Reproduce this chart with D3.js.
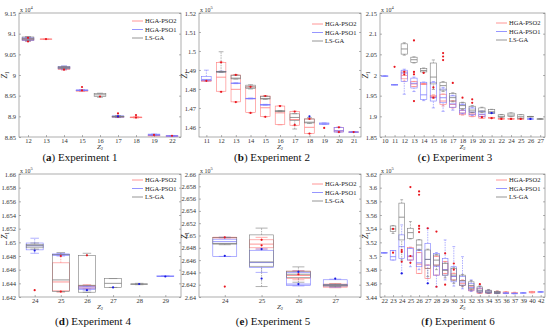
<!DOCTYPE html>
<html>
<head>
<meta charset="utf-8">
<style>
  body { margin: 0; background: #fff; }
  svg { display: block; font-family: "Liberation Serif", "DejaVu Serif", serif; }
  .tick text { font-size: 6.5px; fill: #333; font-family: "Liberation Serif", "DejaVu Serif", serif; }
  .tick line { stroke: #666; stroke-width: 0.5; }
  .caption { font-size: 11px; fill: #111; }
  .legend text { font-size: 6.5px; fill: #222; }
</style>
</head>
<body>
<svg width="550" height="328"></svg>
<script src="https://d3js.org/d3.v7.min.js"></script>
<script>
// each box = [lower whisker, q1, median, q3, upper whisker]; null = no box at that Z2

// ---------- (a) Experiment 1, x 10^4
const catsA = [12, 13, 14, 15, 16, 17, 18, 19, 22];
const ticksA = [8.85, 8.9, 8.95, 9, 9.05, 9.1, 9.15];
const a_pso2 = [
  [9.081, 9.083, 9.086, 9.089, 9.091], [9.086, 9.086, 9.087, 9.087, 9.087],
  [9.012, 9.013, 9.015, 9.018, 9.019], [8.960, 8.961, 8.962, 8.963, 8.964], null,
  [8.898, 8.898, 8.899, 8.900, 8.900], [8.896, 8.897, 8.898, 8.898, 8.899],
  [8.853, 8.853, 8.854, 8.854, 8.855], [8.852, 8.852, 8.852, 8.853, 8.853]
];
const a_pso1 = [
  [9.082, 9.084, 9.087, 9.090, 9.091], null, [9.013, 9.015, 9.018, 9.021, 9.022],
  [8.962, 8.962, 8.963, 8.964, 8.964], null, [8.897, 8.898, 8.900, 8.901, 8.902], null,
  [8.854, 8.854, 8.856, 8.857, 8.857], [8.852, 8.852, 8.853, 8.853, 8.853]
];
const a_lsga = [
  [9.083, 9.085, 9.088, 9.092, 9.093], null, [9.015, 9.016, 9.018, 9.020, 9.021], null,
  [8.946, 8.948, 8.952, 8.955, 8.956], [8.898, 8.899, 8.900, 8.900, 8.901], null, null, null
];
const a_red = [[12, 9.081], [12, 9.090], [13, 9.087], [14, 9.013], [15, 8.971], [15, 8.963], [16, 8.948],
  [17, 8.907], [17, 8.899], [18, 8.903], [18, 8.897], [19, 8.855], [22, 8.853]];
const a_blue = [[17, 8.900]];

// ---------- (b) Experiment 2, x 10^5
const catsB = [11, 12, 13, 14, 15, 16, 17, 18, 19, 20, 21];
const ticksB = [1.46, 1.47, 1.48, 1.49, 1.5, 1.51, 1.52];
const b_pso2 = [
  [1.4843, 1.4843, 1.4843, 1.4844, 1.4844], [1.4785, 1.4788, 1.4862, 1.4940, 1.4942],
  [1.4731, 1.4732, 1.4798, 1.4874, 1.4876], [1.4674, 1.4676, 1.4749, 1.4811, 1.4813],
  [1.4653, 1.4655, 1.4701, 1.4763, 1.4765], [1.4611, 1.4612, 1.4674, 1.4710, 1.4712],
  [1.4607, 1.4609, 1.4639, 1.4681, 1.4683], [1.4565, 1.4566, 1.4598, 1.4642, 1.4643], null,
  [1.4573, 1.4574, 1.4580, 1.4598, 1.4599], [1.4572, 1.4573, 1.4573, 1.4574, 1.4574]
];
const b_pso1 = [
  [1.4843, 1.4843, 1.4850, 1.4866, 1.4899], [1.4889, 1.4890, 1.4892, 1.4893, 1.4894],
  [1.4828, 1.4829, 1.4830, 1.4831, 1.4832], [1.4748, 1.4749, 1.4750, 1.4751, 1.4752],
  [1.4715, 1.4716, 1.4717, 1.4718, 1.4719], null, null, null,
  [1.4614, 1.4614, 1.4617, 1.4621, 1.4621], [1.4573, 1.4573, 1.4580, 1.4598, 1.4598],
  [1.4573, 1.4573, 1.4573, 1.4574, 1.4574]
];
const b_lsga = [
  null, [1.4888, 1.4889, 1.4890, 1.4893, 1.4996], [1.4852, 1.4853, 1.4857, 1.4872, 1.4874],
  [1.4800, 1.4802, 1.4810, 1.4820, 1.4822], [1.4745, 1.4747, 1.4750, 1.4760, 1.4762],
  [1.4680, 1.4681, 1.4683, 1.4685, 1.4686], [1.4589, 1.4633, 1.4650, 1.4669, 1.4670],
  [1.4618, 1.4621, 1.4625, 1.4642, 1.4650], null, null, null
];
const b_red = [[11, 1.4843], [12, 1.4940], [12, 1.4785], [13, 1.4874], [13, 1.4731], [14, 1.4811],
  [14, 1.4674], [15, 1.4763], [15, 1.4653], [16, 1.4710], [17, 1.4681], [17, 1.4611], [18, 1.4642],
  [18, 1.4565], [19, 1.4595], [20, 1.4598], [20, 1.4573], [21, 1.4573]];
const b_blue = [[18, 1.4656]];

// ---------- (c) Experiment 3, x 10^4
const catsC = [10, 11, 12, 13, 14, 15, 16, 17, 18, 19, 20, 21, 22, 24, 25, 26, 27];
const ticksC = [1.85, 1.9, 1.95, 2, 2.05, 2.1, 2.15];
const c_pso2 = [
  null, null, [1.9850, 1.9908, 1.9991, 2.0074, 2.0100], [1.9718, 1.9720, 1.9784, 1.9842, 1.9845],
  [1.9780, 1.9782, 1.9784, 1.9786, 1.9788], [1.9440, 1.9452, 1.9477, 1.9510, 1.9520],
  [1.9250, 1.9287, 1.9370, 1.9535, 1.9540], [1.9200, 1.9220, 1.9287, 1.9370, 1.9380],
  [1.9030, 1.9038, 1.9079, 1.9137, 1.9150], [1.8990, 1.8996, 1.9040, 1.9079, 1.9090],
  [1.8950, 1.8955, 1.8990, 1.9038, 1.9040], [1.8950, 1.8955, 1.8960, 1.8970, 1.8975],
  [1.8935, 1.8938, 1.8940, 1.8945, 1.8950], [1.8935, 1.8938, 1.8940, 1.8943, 1.8945],
  [1.8935, 1.8938, 1.8940, 1.8942, 1.8945], null, null
];
const c_pso1 = [
  [1.9970, 1.9972, 1.9975, 1.9978, 1.9980], [1.9765, 1.9766, 1.9767, 1.9768, 1.9769],
  [1.9535, 1.9842, 2.0049, 2.0116, 2.0140], [1.9600, 1.9685, 1.9800, 1.9925, 1.9950],
  [1.9380, 1.9411, 1.9520, 1.9825, 1.9830], [1.9204, 1.9370, 1.9452, 1.9825, 1.9840],
  [1.9121, 1.9328, 1.9450, 1.9660, 1.9700], [1.9150, 1.9220, 1.9300, 1.9494, 1.9510],
  [1.9060, 1.9079, 1.9150, 1.9287, 1.9300], [1.9020, 1.9038, 1.9100, 1.9200, 1.9220],
  [1.8990, 1.8996, 1.9050, 1.9121, 1.9130], [1.9075, 1.9077, 1.9079, 1.9081, 1.9083],
  null, null, null, [1.8935, 1.8936, 1.8938, 1.8940, 1.8941], null
];
const c_lsga = [
  null, null, [2.0480, 2.0505, 2.0630, 2.0754, 2.0780], [2.0290, 2.0298, 2.0370, 2.0431, 2.0440],
  [2.0060, 2.0074, 2.0110, 2.0157, 2.0170], [1.9650, 1.9784, 1.9950, 2.0290, 2.0364],
  [1.9600, 1.9635, 1.9743, 1.9825, 1.9840], [1.9350, 1.9370, 1.9452, 1.9552, 1.9570],
  [1.9170, 1.9187, 1.9260, 1.9328, 1.9340], [1.9090, 1.9104, 1.9150, 1.9245, 1.9260],
  [1.9090, 1.9104, 1.9130, 1.9204, 1.9220], [1.9070, 1.9079, 1.9110, 1.9162, 1.9170],
  [1.8975, 1.8980, 1.9000, 1.9038, 1.9045], [1.8990, 1.8996, 1.9030, 1.9079, 1.9085],
  [1.8950, 1.8955, 1.8990, 1.9038, 1.9040], [1.8994, 1.8995, 1.8996, 1.8997, 1.8998],
  [1.8936, 1.8937, 1.8938, 1.8939, 1.8940]
];
const c_red = [[11, 2.0198], [12, 2.0074], [12, 2.0016], [13, 2.0837], [13, 2.0074], [13, 2.0016],
  [13, 1.9370], [14, 2.0049], [15, 1.9700], [15, 1.9452], [16, 2.0530], [16, 2.0447], [16, 2.0360],
  [17, 1.9809], [18, 1.9452], [19, 1.9411], [19, 1.9328], [20, 1.8980], [21, 1.8955], [22, 1.8938],
  [24, 1.8938], [25, 1.8938]];
const c_blue = [[21, 1.9079], [26, 1.8938]];

// ---------- (d) Experiment 4, x 10^5
const catsD = [24, 25, 26, 27, 28, 29];
const ticksD = [1.642, 1.644, 1.646, 1.648, 1.65, 1.652, 1.654, 1.656, 1.658, 1.66];
const d_pso2 = [
  null, [1.6427, 1.6429, 1.6442, 1.6470, 1.6482], [1.6432, 1.6433, 1.6435, 1.6437, 1.6438],
  null, null, null
];
const d_pso1 = [
  [1.6484, 1.6489, 1.6495, 1.6499, 1.6506], [1.6480, 1.6481, 1.6482, 1.6483, 1.6484],
  [1.6430, 1.6431, 1.6433, 1.6435, 1.6436], null, null, [1.6450, 1.6450, 1.6450, 1.6451, 1.6451]
];
const d_lsga = [
  [1.6490, 1.6492, 1.6495, 1.6497, 1.6499], [1.6428, 1.6428, 1.6445, 1.6482, 1.6485],
  [1.6427, 1.6427, 1.6437, 1.6481, 1.6484], [1.6434, 1.6434, 1.6440, 1.6447, 1.6447],
  [1.6438, 1.6439, 1.6439, 1.6439, 1.6440], null
];
const d_red = [[24, 1.6430], [25, 1.6480], [25, 1.6428], [26, 1.6481]];
const d_blue = [[24, 1.6488], [26, 1.6430], [27, 1.6434], [28, 1.6439], [29, 1.6450]];

// ---------- (e) Experiment 5, x 10^5
const catsE = [24, 25, 26, 27];
const ticksE = [2.64, 2.642, 2.644, 2.646, 2.648, 2.65, 2.652, 2.654, 2.656, 2.658, 2.66];
const e_pso2 = [
  [2.6496, 2.6496, 2.6497, 2.6497, 2.6497], [2.6478, 2.6480, 2.6486, 2.6493, 2.6497],
  [2.6428, 2.6430, 2.6435, 2.6442, 2.6443], [2.6415, 2.6416, 2.6418, 2.6421, 2.6422]
];
const e_pso1 = [
  [2.6466, 2.6466, 2.6490, 2.6494, 2.6497], [2.6440, 2.6448, 2.6456, 2.6476, 2.6478],
  [2.6418, 2.6419, 2.6421, 2.6440, 2.6442], [2.6416, 2.6418, 2.6420, 2.6428, 2.6429]
];
const e_lsga = [
  [2.6485, 2.6486, 2.6487, 2.6497, 2.6497], [2.6417, 2.6450, 2.6457, 2.6501, 2.6512],
  [2.6424, 2.6432, 2.6437, 2.6442, 2.6449], [2.6417, 2.6418, 2.6419, 2.6420, 2.6421]
];
const e_red = [[24, 2.6497], [24, 2.6417], [25, 2.6493], [25, 2.6484], [26, 2.6437]];
const e_blue = [[24, 2.6467], [25, 2.6430], [25, 2.6478], [26, 2.6441], [26, 2.6421], [27, 2.6430]];

// ---------- (f) Experiment 6, x 10^5
const catsF = [22, 23, 24, 25, 26, 27, 28, 29, 30, 31, 32, 33, 34, 35, 36, 37, 39, 40, 42];
const ticksF = [3.44, 3.46, 3.48, 3.5, 3.52, 3.54, 3.56, 3.58, 3.6, 3.62];
const f_pso2 = [
  null, null, null, [3.4941, 3.4941, 3.4990, 3.5127, 3.5130], [3.4745, 3.4745, 3.4880, 3.5048, 3.5050],
  [3.4671, 3.4671, 3.4818, 3.4867, 3.4870], [3.4720, 3.4720, 3.4867, 3.4990, 3.5000],
  [3.4745, 3.4745, 3.4800, 3.4916, 3.4920], [3.4647, 3.4650, 3.4700, 3.4745, 3.4750],
  [3.4560, 3.4573, 3.4600, 3.4640, 3.4650], [3.4490, 3.4490, 3.4510, 3.4559, 3.4560],
  [3.4451, 3.4451, 3.4470, 3.4524, 3.4530], [3.4450, 3.4451, 3.4460, 3.4490, 3.4500],
  [3.4450, 3.4451, 3.4460, 3.4480, 3.4490], [3.4450, 3.4451, 3.4460, 3.4475, 3.4480],
  [3.4448, 3.4450, 3.4455, 3.4465, 3.4470], null, [3.4460, 3.4461, 3.4470, 3.4480, 3.4482], null
];
const f_pso1 = [
  [3.5047, 3.5047, 3.5048, 3.5049, 3.5050], [3.4941, 3.4941, 3.4990, 3.5078, 3.5080],
  [3.4745, 3.4965, 3.5137, 3.5309, 3.5455], [3.4843, 3.4941, 3.5000, 3.5112, 3.5115],
  [3.4800, 3.4843, 3.4900, 3.5078, 3.5100], [3.4598, 3.4867, 3.4950, 3.5186, 3.5406],
  [3.4549, 3.4720, 3.4850, 3.5039, 3.5050], [3.4650, 3.4720, 3.4800, 3.4965, 3.5235],
  [3.4560, 3.4622, 3.4700, 3.4843, 3.5137], [3.4520, 3.4573, 3.4620, 3.4700, 3.4990],
  [3.4480, 3.4500, 3.4540, 3.4600, 3.4650], [3.4460, 3.4470, 3.4490, 3.4530, 3.4560],
  [3.4455, 3.4460, 3.4470, 3.4490, 3.4500], [3.4450, 3.4455, 3.4460, 3.4470, 3.4480],
  [3.4450, 3.4452, 3.4455, 3.4460, 3.4465], [3.4448, 3.4450, 3.4452, 3.4455, 3.4458],
  [3.4460, 3.4460, 3.4461, 3.4462, 3.4462], null, [3.4475, 3.4475, 3.4476, 3.4477, 3.4477]
];
const f_lsga = [
  null, [3.5330, 3.5357, 3.5396, 3.5440, 3.5445], [3.4940, 3.5235, 3.5568, 3.5774, 3.5823],
  [3.5250, 3.5259, 3.5342, 3.5406, 3.5504], [3.5080, 3.5098, 3.5161, 3.5235, 3.5240],
  [3.4700, 3.4818, 3.4950, 3.5088, 3.5100], [3.4800, 3.4867, 3.4940, 3.5014, 3.5020],
  [3.4680, 3.4720, 3.4790, 3.4891, 3.4900], [3.4600, 3.4647, 3.4720, 3.4818, 3.4830],
  [3.4550, 3.4573, 3.4640, 3.4720, 3.4730], [3.4500, 3.4524, 3.4570, 3.4622, 3.4640],
  [3.4460, 3.4475, 3.4500, 3.4549, 3.4560], [3.4455, 3.4460, 3.4475, 3.4500, 3.4510],
  [3.4452, 3.4455, 3.4465, 3.4480, 3.4485], null, null, null, null, null
];
const f_red = [[23, 3.5396], [23, 3.5048], [24, 3.5088], [24, 3.5060], [24, 3.4916], [25, 3.6009],
  [25, 3.5000], [25, 3.4900], [26, 3.5945], [26, 3.5896], [26, 3.5440], [26, 3.5400], [26, 3.5350],
  [27, 3.5406], [28, 3.5357], [28, 3.4550], [29, 3.5039], [29, 3.4580], [30, 3.4890], [30, 3.4800],
  [33, 3.4588]];
const f_blue = [[24, 3.4745], [27, 3.4600]];

const seriesNames = ["HGA-PSO2", "HGA-PSO1", "LS-GA"];
const seriesColors = ["#ff7b7b", "#7b7bff", "#7c7c7c"];

// panel layout
const panels = [
  { tag: "a", title: "Experiment 1", exp: 4, cats: catsA, ticks: ticksA, dom: [8.85, 9.15], boxes: [a_pso2, a_pso1, a_lsga], red: a_red, blue: a_blue,
    x0: 19, x1: 181, y0: 13, y1: 137, pad: 0.5, cap: 80, leg: 8 },
  { tag: "b", title: "Experiment 2", exp: 5, cats: catsB, ticks: ticksB, dom: [1.4547, 1.52], boxes: [b_pso2, b_pso1, b_lsga], red: b_red, blue: b_blue,
    x0: 199, x1: 361, y0: 13, y1: 137, pad: 0.5, cap: 272, leg: 11 },
  { tag: "c", title: "Experiment 3", exp: 4, cats: catsC, ticks: ticksC, dom: [1.85, 2.15], boxes: [c_pso2, c_pso1, c_lsga], red: c_red, blue: c_blue,
    x0: 380, x1: 545, y0: 13, y1: 137, pad: 0.5, cap: 455, leg: 10 },
  { tag: "d", title: "Experiment 4", exp: 5, cats: catsD, ticks: ticksD, dom: [1.642, 1.66], boxes: [d_pso2, d_pso1, d_lsga], red: d_red, blue: d_blue,
    x0: 19, x1: 181, y0: 174, y1: 297, pad: 0.6, cap: 93, leg: 6 },
  { tag: "e", title: "Experiment 5", exp: 5, cats: catsE, ticks: ticksE, dom: [2.64, 2.66], boxes: [e_pso2, e_pso1, e_lsga], red: e_red, blue: e_blue,
    x0: 199, x1: 361, y0: 174, y1: 297, pad: 0.7, cap: 273, leg: 10 },
  { tag: "f", title: "Experiment 6", exp: 5, cats: catsF, ticks: ticksF, dom: [3.44, 3.62], boxes: [f_pso2, f_pso1, f_lsga], red: f_red, blue: f_blue,
    x0: 380, x1: 545, y0: 174, y1: 297, pad: 0.5, cap: 458, leg: 6 }
];

const svg = d3.select("svg");

panels.forEach(p => {
  const g = svg.append("g");
  const x = d3.scalePoint().domain(p.cats).range([p.x0, p.x1]).padding(p.pad);
  const y = d3.scaleLinear().domain(p.dom).range([p.y1, p.y0]);
  const bw = x.step() * 0.65;

  // axes
  const yAxis = d3.axisLeft(y).tickValues(p.ticks).tickSize(-2).tickPadding(3)
    .tickFormat(d => String(+d.toFixed(3)));
  g.append("g").attr("transform", `translate(${p.x0},0)`).call(yAxis)
    .attr("font-family", null)
    .call(s => s.select(".domain").remove());
  g.append("g").attr("transform", `translate(${p.x1},0)`)
    .call(d3.axisRight(y).tickValues(p.ticks).tickSize(-2).tickFormat(""))
    .call(s => s.select(".domain").remove());
  const xAxis = d3.axisBottom(x).tickSize(-2).tickPadding(1.5);
  g.append("g").attr("transform", `translate(0,${p.y1})`).call(xAxis)
    .attr("font-family", null)
    .call(s => s.select(".domain").remove());

  g.append("rect")
    .attr("x", p.x0).attr("y", p.y0)
    .attr("width", p.x1 - p.x0).attr("height", p.y1 - p.y0)
    .attr("fill", "none").attr("stroke", "#777").attr("stroke-width", 0.6);

  // boxes
  p.boxes.forEach((boxes, si) => {
    const col = seriesColors[si];
    const rows = boxes.map((b, i) => ({ b, c: p.cats[i] })).filter(d => d.b);
    const bg = g.append("g").selectAll("g").data(rows).join("g")
      .attr("stroke", col).attr("stroke-width", 0.6).attr("fill", "none");
    bg.append("line")
      .attr("x1", d => x(d.c)).attr("x2", d => x(d.c))
      .attr("y1", d => y(d.b[0])).attr("y2", d => y(d.b[1]))
      .attr("stroke-dasharray", "1.5,1");
    bg.append("line")
      .attr("x1", d => x(d.c)).attr("x2", d => x(d.c))
      .attr("y1", d => y(d.b[3])).attr("y2", d => y(d.b[4]))
      .attr("stroke-dasharray", "1.5,1");
    [0, 4].forEach(k => {
      bg.append("line")
        .attr("x1", d => x(d.c) - bw / 4).attr("x2", d => x(d.c) + bw / 4)
        .attr("y1", d => y(d.b[k])).attr("y2", d => y(d.b[k]));
    });
    bg.append("rect")
      .attr("x", d => x(d.c) - bw / 2).attr("width", bw)
      .attr("y", d => y(d.b[3]))
      .attr("height", d => Math.max(0.6, y(d.b[1]) - y(d.b[3])));
    bg.append("line")
      .attr("x1", d => x(d.c) - bw / 2).attr("x2", d => x(d.c) + bw / 2)
      .attr("y1", d => y(d.b[2])).attr("y2", d => y(d.b[2]))
      .attr("stroke-width", 0.8);
  });

  // outlier dots
  g.append("g").selectAll("circle").data(p.red).join("circle")
    .attr("cx", d => x(d[0])).attr("cy", d => y(d[1])).attr("r", 1.1)
    .attr("fill", "#e8161e");
  g.append("g").selectAll("circle").data(p.blue).join("circle")
    .attr("cx", d => x(d[0])).attr("cy", d => y(d[1])).attr("r", 1.1)
    .attr("fill", "#1a1ae0");

  // exponent label
  const ex = g.append("text").attr("x", p.x0 + 1).attr("y", p.y0 - 1.5)
    .attr("font-size", 6).attr("fill", "#333").text("x 10");
  ex.append("tspan").attr("dy", -3).attr("font-size", 4.5).text(p.exp);

  // axis titles
  const yl = g.append("text")
    .attr("transform", `translate(${p.x0 - 12},${(p.y0 + p.y1) / 2}) rotate(-90)`)
    .attr("text-anchor", "middle").attr("font-size", 8).attr("font-style", "italic").attr("fill", "#222")
    .text("Z");
  yl.append("tspan").attr("dy", 2).attr("font-size", 5.5).attr("font-style", "normal").text("1");
  const xl = g.append("text")
    .attr("x", (p.x0 + p.x1) / 2).attr("y", p.y1 + 12)
    .attr("text-anchor", "middle").attr("font-size", 7).attr("font-style", "italic").attr("fill", "#222")
    .text("Z");
  xl.append("tspan").attr("dy", 1.2).attr("font-size", 4.5).attr("font-style", "normal").text("2");

  // legend
  const lg = g.append("g").attr("class", "legend");
  seriesNames.forEach((name, i) => {
    const ly = p.y0 + p.leg + i * 8.5;
    lg.append("line").attr("x1", p.x1 - 49).attr("x2", p.x1 - 38)
      .attr("y1", ly).attr("y2", ly)
      .attr("stroke", seriesColors[i]).attr("stroke-width", 0.8);
    lg.append("text").attr("x", p.x1 - 36).attr("y", ly + 2.2).text(name);
  });

  // caption
  const cap = g.append("text").attr("class", "caption")
    .attr("x", p.cap).attr("y", p.y1 === 137 ? 161 : 325).attr("text-anchor", "middle");
  cap.append("tspan").text("(");
  cap.append("tspan").attr("font-weight", "bold").text(p.tag);
  cap.append("tspan").text(") " + p.title);
});
</script>
</body>
</html>
